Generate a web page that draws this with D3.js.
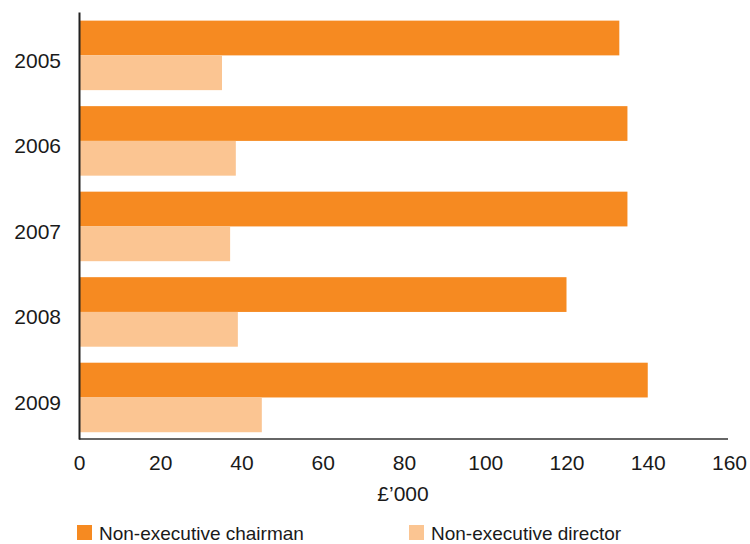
<!DOCTYPE html>
<html>
<head>
<meta charset="utf-8">
<script src="https://cdn.jsdelivr.net/npm/d3@7"></script>
<style>
  body { margin: 0; background: #fff; }
  text { font-family: "Liberation Sans", Arial, sans-serif; fill: #1a1a1a; }
</style>
</head>
<body>
<script>
const years = ["2005", "2006", "2007", "2008", "2009"];
const chairman = [133, 135, 135, 120, 140];
const director = [35.2, 38.6, 37.2, 39.1, 45];
const xTicks = [0, 20, 40, 60, 80, 100, 120, 140, 160];
const seriesNames = ["Non-executive chairman", "Non-executive director"];
const colors = ["#f68a21", "#fbc592"];

const width = 750, height = 544;
const plotLeft = 79, plotRight = 729, plotTop = 12, plotBottom = 439;

let svg = d3.select("body").append("svg")
    .attr("width", width)
    .attr("height", height);

let xScale = d3.scaleLinear().domain([0, 160]).range([plotLeft, plotRight]);
let yScale = d3.scaleBand().domain(years).range([plotTop, plotBottom])
    .paddingInner(0.187).paddingOuter(0.09).align(0.56);
let subScale = d3.scaleBand().domain([0, 1]).range([0, yScale.bandwidth()]);

let rows = years.map((y, i) => ({year: y, values: [chairman[i], director[i]]}));

let groups = svg.append("g")
  .selectAll("g")
  .data(rows)
  .enter()
  .append("g")
  .attr("transform", d => `translate(0,${yScale(d.year)})`);

groups.selectAll("rect")
  .data(d => d.values)
  .enter()
  .append("rect")
  .attr("x", xScale(0))
  .attr("y", (d, i) => subScale(i))
  .attr("width", d => xScale(d) - xScale(0))
  .attr("height", subScale.bandwidth())
  .attr("fill", (d, i) => colors[i]);

// x axis
let xAxis = d3.axisBottom(xScale).tickValues(xTicks).tickSize(0).tickPadding(16);
let xg = svg.append("g")
  .attr("transform", `translate(0,${plotBottom})`)
  .call(xAxis);
xg.select(".domain").attr("stroke", "#333").attr("stroke-width", 1.5)
  .attr("d", `M${plotLeft},0H${plotRight - 1}`);
xg.selectAll("text").style("font-size", "21px").attr("fill", "#1a1a1a");

// y axis
let yAxis = d3.axisLeft(yScale).tickSize(0).tickPadding(18);
let yg = svg.append("g")
  .attr("transform", `translate(${plotLeft},0)`)
  .call(yAxis);
yg.select(".domain").attr("stroke", "#222").attr("stroke-width", 2);
yg.selectAll("text").style("font-size", "21px").attr("fill", "#1a1a1a").attr("dy", "12.5px");

svg.append("text")
  .attr("x", 403)
  .attr("y", 501)
  .attr("text-anchor", "middle")
  .style("font-size", "21px")
  .text("£’000");

// legend
let legendX = [77, 409];
let legend = svg.append("g")
  .selectAll("g")
  .data(seriesNames)
  .enter()
  .append("g")
  .attr("transform", (d, i) => `translate(${legendX[i]},525)`);
legend.append("rect")
  .attr("width", 15).attr("height", 15)
  .attr("fill", (d, i) => colors[i]);
legend.append("text")
  .attr("x", 22).attr("y", 15)
  .style("font-size", "19px")
  .text(d => d);
</script>
</body>
</html>
